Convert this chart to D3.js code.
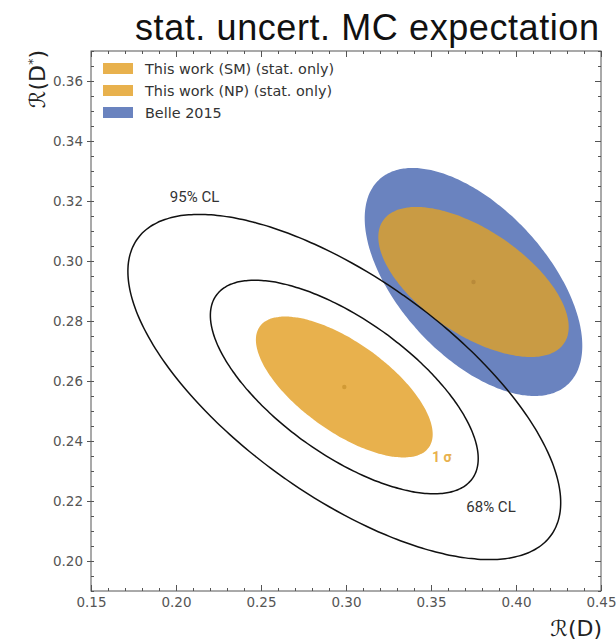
<!DOCTYPE html>
<html>
<head>
<meta charset="utf-8">
<script src="https://cdn.jsdelivr.net/npm/d3@7"></script>
<style>
  body { margin: 0; background: #fff; }
  svg text { font-family: "DejaVu Sans", sans-serif; }
</style>
</head>
<body>
<div id="chart"></div>
<script>
// regions : filled 1 sigma ellipses
const regionNames = ["This work (SM) (stat. only)", "This work (NP) (stat. only)", "Belle 2015"];
const regionColors = ["#e8b14d", "#e8b14d", "#6a83bf"];
const fillColors = ["#e8b14d", "#c99b44", "#6a83bf"];
const centerRD = [0.299, 0.375, 0.375];
const centerRDs = [0.258, 0.293, 0.293];
const sigmaRD = [0.052, 0.056, 0.064];
const sigmaRDs = [0.0235, 0.025, 0.038];
const corr = [-0.67, -0.6, -0.56];

// CL contours around the SM expectation (2D, in units of sigma)
const clLabels = ["68% CL", "95% CL"];
const clScale = [1.515, 2.448];

const xTicks = [0.15, 0.20, 0.25, 0.30, 0.35, 0.40, 0.45];
const yTicks = [0.20, 0.22, 0.24, 0.26, 0.28, 0.30, 0.32, 0.34, 0.36];

const W = 616, H = 641;
const margin = {top: 51, right: 15, bottom: 50, left: 91};
const width = W - margin.left - margin.right,
      height = H - margin.top - margin.bottom;

const svg = d3.select("#chart").append("svg")
  .attr("width", W).attr("height", H);

svg.append("text")
  .attr("x", 135).attr("y", 40)
  .attr("textLength", 464)
  .style("font-family", "Liberation Sans, Arial, sans-serif")
  .style("font-size", "36px")
  .attr("fill", "#111")
  .text("stat. uncert. MC expectation");

const g = svg.append("g")
  .attr("transform", `translate(${margin.left}, ${margin.top})`);

const x = d3.scaleLinear().domain([0.15, 0.45]).range([0, width]);
const y = d3.scaleLinear().domain([0.19, 0.37]).range([height, 0]);

// ellipse of covariance (sx, sy, rho) scaled by k
function ellipse(i, k) {
  const pts = d3.range(0, 360, 2).map(a => {
    const t = a * Math.PI / 180;
    const u = Math.cos(t), v = Math.sin(t);
    const dx = k * sigmaRD[i] * u;
    const dy = k * sigmaRDs[i] * (corr[i] * u + Math.sqrt(1 - corr[i] * corr[i]) * v);
    return [x(centerRD[i] + dx), y(centerRDs[i] + dy)];
  });
  return d3.line().curve(d3.curveCardinalClosed)(pts);
}

// draw Belle, then NP, then SM
[2, 1, 0].forEach(i => {
  g.append("path")
    .attr("d", ellipse(i, 1))
    .attr("fill", fillColors[i]);
});

clScale.forEach(k => {
  g.append("path")
    .attr("d", ellipse(0, k))
    .attr("fill", "none")
    .attr("stroke", "#111")
    .attr("stroke-width", 1.5);
});

// centre points
[1, 0].forEach(i => {
  g.append("circle")
    .attr("cx", x(centerRD[i])).attr("cy", y(centerRDs[i]))
    .attr("r", 2.2)
    .attr("fill", i == 0 ? "#d19a35" : "#b88a3a");
});

// contour labels
g.append("text")
  .attr("x", x(0.2109)).attr("y", y(0.3197))
  .attr("text-anchor", "middle")
  .style("font-family", "Roboto, sans-serif")
  .style("font-size", "15px")
  .attr("fill", "#333")
  .text(clLabels[1]);
g.append("text")
  .attr("x", x(0.3853)).attr("y", y(0.2162))
  .attr("text-anchor", "middle")
  .style("font-family", "Roboto, sans-serif")
  .style("font-size", "15px")
  .attr("fill", "#333")
  .text(clLabels[0]);
g.append("text")
  .attr("x", x(0.3506)).attr("y", y(0.233))
  .style("font-family", "Roboto, sans-serif")
  .style("font-size", "14px")
  .style("font-weight", "bold")
  .attr("fill", "#e8b14d")
  .text("1 σ");

// axes
const xMinor = d3.range(0.15, 0.4501, 0.01);
const yMinor = d3.range(0.19, 0.3701, 0.005);

const axisStyle = sel => {
  sel.select(".domain").remove();
  sel.selectAll("line").attr("stroke", "#555");
  sel.selectAll("text").attr("fill", "#555").style("font-size", "13.5px");
};

g.append("g").attr("transform", `translate(0, ${height})`)
  .call(d3.axisBottom(x).tickValues(xTicks).tickFormat(d3.format(".2f")).tickSize(-6).tickPadding(6))
  .call(axisStyle);
g.append("g").attr("transform", `translate(0, ${height})`)
  .call(d3.axisBottom(x).tickValues(xMinor).tickFormat("").tickSize(-3))
  .call(axisStyle);
g.append("g")
  .call(d3.axisTop(x).tickValues(xTicks).tickFormat("").tickSize(-6))
  .call(axisStyle);
g.append("g")
  .call(d3.axisTop(x).tickValues(xMinor).tickFormat("").tickSize(-3))
  .call(axisStyle);

g.append("g")
  .call(d3.axisLeft(y).tickValues(yTicks).tickFormat(d3.format(".2f")).tickSize(4).tickPadding(4))
  .call(axisStyle);
g.append("g")
  .call(d3.axisRight(y).tickValues(yMinor).tickFormat("").tickSize(3))
  .call(axisStyle);
g.append("g").attr("transform", `translate(${width}, 0)`)
  .call(d3.axisLeft(y).tickValues(yTicks).tickFormat("").tickSize(6))
  .call(axisStyle);
g.append("g").attr("transform", `translate(${width}, 0)`)
  .call(d3.axisLeft(y).tickValues(yMinor).tickFormat("").tickSize(3))
  .call(axisStyle);

g.append("rect")
  .attr("width", width).attr("height", height)
  .attr("fill", "none").attr("stroke", "#555").attr("stroke-width", 1);

// axis titles
svg.append("text")
  .attr("x", 602).attr("y", 636)
  .attr("text-anchor", "end")
  .style("font-size", "22px")
  .attr("fill", "#222")
  .text("ℛ(D)");

svg.append("text")
  .attr("transform", "translate(45, 50) rotate(-90)")
  .attr("text-anchor", "end")
  .style("font-size", "22px")
  .attr("fill", "#222")
  .call(t => {
    t.append("tspan").text("ℛ(D");
    t.append("tspan").attr("dy", -8).style("font-size", "13px").text("*");
    t.append("tspan").attr("dy", 8).text(")");
  });

// legend
const legend = g.append("g").attr("transform", "translate(12, 12)");
regionNames.forEach((name, i) => {
  const row = legend.append("g").attr("transform", `translate(0, ${i * 22})`);
  row.append("rect")
    .attr("width", 30).attr("height", 11)
    .attr("fill", regionColors[i]);
  row.append("text")
    .attr("x", 42).attr("y", 10.5)
    .style("font-size", "14.4px")
    .attr("fill", "#333")
    .text(name);
});
</script>
</body>
</html>
